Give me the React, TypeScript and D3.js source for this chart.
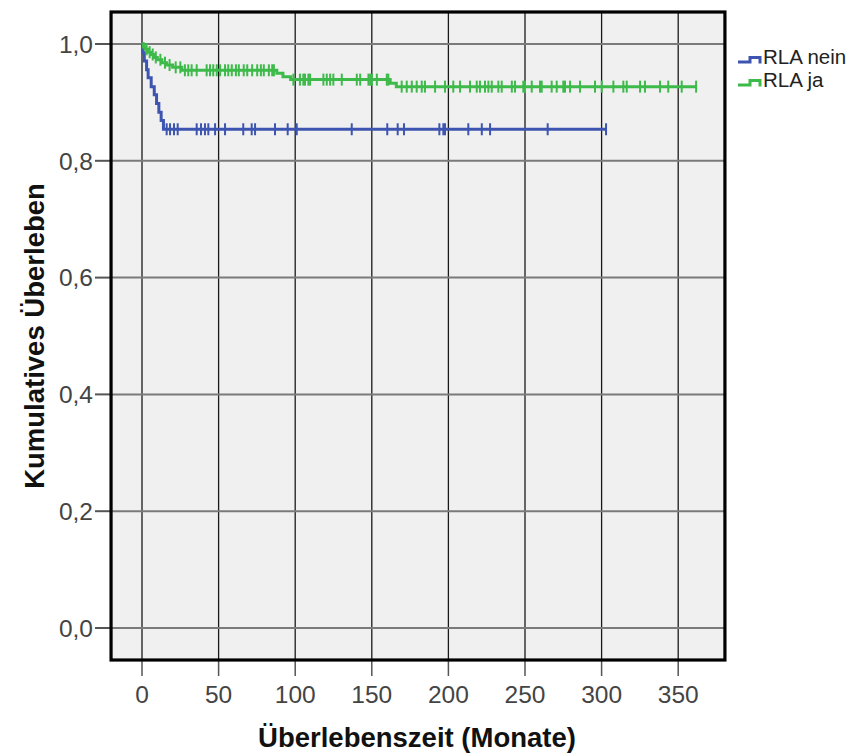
import React from "react";
import * as d3 from "d3";

// Kaplan–Meier survival estimates, by group
const neinTimes = [0, 0.5, 1.5, 3, 4, 6, 8, 9.5, 11, 12.5, 14];
const neinSurv = [1, 0.985, 0.971, 0.956, 0.942, 0.927, 0.913, 0.898, 0.883, 0.869, 0.854];
const neinEnd = 302.9;
const neinCensored = [16.1, 18.3, 20.9, 23.3, 35.7, 38.5, 41.1, 43.3, 47.7, 54.2, 66.1, 71.6, 73.8, 86.8, 95.1, 101,
  136.9, 160.1, 166.9, 171, 194.1, 196.7, 197.8, 213, 221.8, 227.2, 264.8, 302.9];

const jaTimes = [0, 1, 2, 4, 6, 8, 10, 13, 16, 20, 26, 88, 92, 97, 162, 166];
const jaSurv = [1, 0.995, 0.991, 0.986, 0.982, 0.977, 0.973, 0.968, 0.964, 0.96, 0.955, 0.95, 0.944, 0.939, 0.933, 0.927];
const jaEnd = 361.7;
const jaCensored = [3, 5, 7, 9, 12, 15, 18, 22, 25, 28, 30.2, 32.4, 35.7, 42.2, 44.4, 46.5, 48.8, 51, 54.2, 56.3, 58.6,
  61.3, 63.2, 66.4, 68.7, 71.9, 75.2, 77.6, 79.5, 82.8, 85, 86.1, 98.8, 103.1, 105.3, 106.4, 108.6, 109.7, 118.4,
  120.6, 122.8, 124.9, 130.4, 140.2, 142.4, 147.8, 148.9, 150, 153.3, 159.8, 160.8, 169.5, 172.8, 176.1, 179.3,
  182.6, 184.7, 191.3, 197.8, 203.2, 207.6, 214.1, 218.5, 220.6, 223.9, 226.1, 228.3, 232.6, 234.8, 241.4, 243.5,
  248.9, 250, 254.4, 259.8, 260.9, 267.4, 270.7, 275, 276.1, 279.4, 285.9, 295.7, 300.1, 307.7, 314.2, 316.4,
  325.1, 328.3, 338.1, 343.5, 352.3, 361.7];

const xTicks = [0, 50, 100, 150, 200, 250, 300, 350];
const yTicks = [0, 0.2, 0.4, 0.6, 0.8, 1.0];
const groupLabels = ["RLA nein", "RLA ja"];

const W = 859;
const H = 753;
const FONT = "'Liberation Sans', Arial, sans-serif";
const BLUE = "#3d55b0";
const GREEN = "#3dba4a";

const x = d3.scaleLinear().domain([0, 350]).range([142, 678.2]);
const y = d3.scaleLinear().domain([0, 1]).range([628, 44]);
const frame = { x0: x(-20.2), x1: x(380.5), y0: y(1.0548), y1: y(-0.0548) };

function survAt(times: number[], surv: number[], t: number) {
  const i = d3.bisectRight(times, t) - 1;
  return surv[Math.max(0, i)];
}

function curvePath(times: number[], surv: number[], end: number) {
  const pts: [number, number][] = times.map((t, i) => [t, surv[i]]);
  pts.push([end, surv[surv.length - 1]]);
  return d3
    .line<[number, number]>()
    .x((d) => x(d[0]))
    .y((d) => y(d[1]))
    .curve(d3.curveStepAfter)(pts) as string;
}

function Curve({ times, surv, end, censored, color }: any) {
  return (
    <g>
      <path d={curvePath(times, surv, end)} fill="none" stroke={color} strokeWidth={3} />
      {censored.map((t: number, i: number) => {
        const s = survAt(times, surv, t);
        return (
          <line key={i} x1={x(t)} x2={x(t)} y1={y(s) - 6} y2={y(s) + 6} stroke={color} strokeWidth={2} />
        );
      })}
    </g>
  );
}

function LegendIcon({ x0, yBase, color }: any) {
  const p = d3.path();
  p.moveTo(x0, yBase);
  p.lineTo(x0 + 12, yBase);
  p.lineTo(x0 + 12, yBase - 4.5);
  p.lineTo(x0 + 22, yBase - 4.5);
  p.lineTo(x0 + 22, yBase + 1.5);
  return <path d={p.toString()} fill="none" stroke={color} strokeWidth={3} />;
}

export default function App() {
  return (
    <svg width={W} height={H} style={{ position: "absolute", left: 0, top: 0, background: "#ffffff" }}>
      <rect x={0} y={0} width={W} height={H} fill="#ffffff" />
      <rect x={frame.x0} y={frame.y0} width={frame.x1 - frame.x0} height={frame.y1 - frame.y0} fill="#f0f0f0" />

      {/* grid */}
      {xTicks.map((t) => (
        <line key={"gx" + t} x1={x(t)} x2={x(t)} y1={frame.y0} y2={frame.y1} stroke="#1a1a1a" strokeWidth={1.3} />
      ))}
      {yTicks.map((t) => (
        <line key={"gy" + t} x1={frame.x0} x2={frame.x1} y1={y(t)} y2={y(t)} stroke="#7a7a7a" strokeWidth={2} />
      ))}

      {/* axis ticks and labels */}
      {yTicks.map((t) => (
        <g key={"ty" + t}>
          <line x1={95} x2={frame.x0} y1={y(t)} y2={y(t)} stroke="#555" strokeWidth={2} />
          <text x={93} y={y(t) + 8.7} textAnchor="end" fontFamily={FONT} fontSize={24.5} fill="#444">
            {d3.format(".1f")(t).replace(".", ",")}
          </text>
        </g>
      ))}
      {xTicks.map((t) => (
        <g key={"tx" + t}>
          <line x1={x(t)} x2={x(t)} y1={frame.y1} y2={frame.y1 + 16} stroke="#555" strokeWidth={1.5} />
          <text x={x(t)} y={703} textAnchor="middle" fontFamily={FONT} fontSize={24.5} fill="#444">
            {t}
          </text>
        </g>
      ))}

      <Curve times={neinTimes} surv={neinSurv} end={neinEnd} censored={neinCensored} color={BLUE} />
      <Curve times={jaTimes} surv={jaSurv} end={jaEnd} censored={jaCensored} color={GREEN} />

      <rect x={frame.x0} y={frame.y0} width={frame.x1 - frame.x0} height={frame.y1 - frame.y0} fill="none" stroke="#000" strokeWidth={3.2} />

      {/* axis titles */}
      <text x={417} y={747} textAnchor="middle" fontFamily={FONT} fontSize={27.5} fontWeight={700} fill="#111">
        Überlebenszeit (Monate)
      </text>
      <text transform={`translate(44,${y(0.5)}) rotate(-90)`} textAnchor="middle" fontFamily={FONT} fontSize={27.5} fontWeight={700} fill="#111">
        Kumulatives Überleben
      </text>

      {/* legend */}
      <LegendIcon x0={738} yBase={62} color={BLUE} />
      <text x={763} y={64} fontFamily={FONT} fontSize={20.5} fill="#222">{groupLabels[0]}</text>
      <LegendIcon x0={738} yBase={85} color={GREEN} />
      <text x={763} y={87} fontFamily={FONT} fontSize={20.5} fill="#222">{groupLabels[1]}</text>
    </svg>
  );
}
